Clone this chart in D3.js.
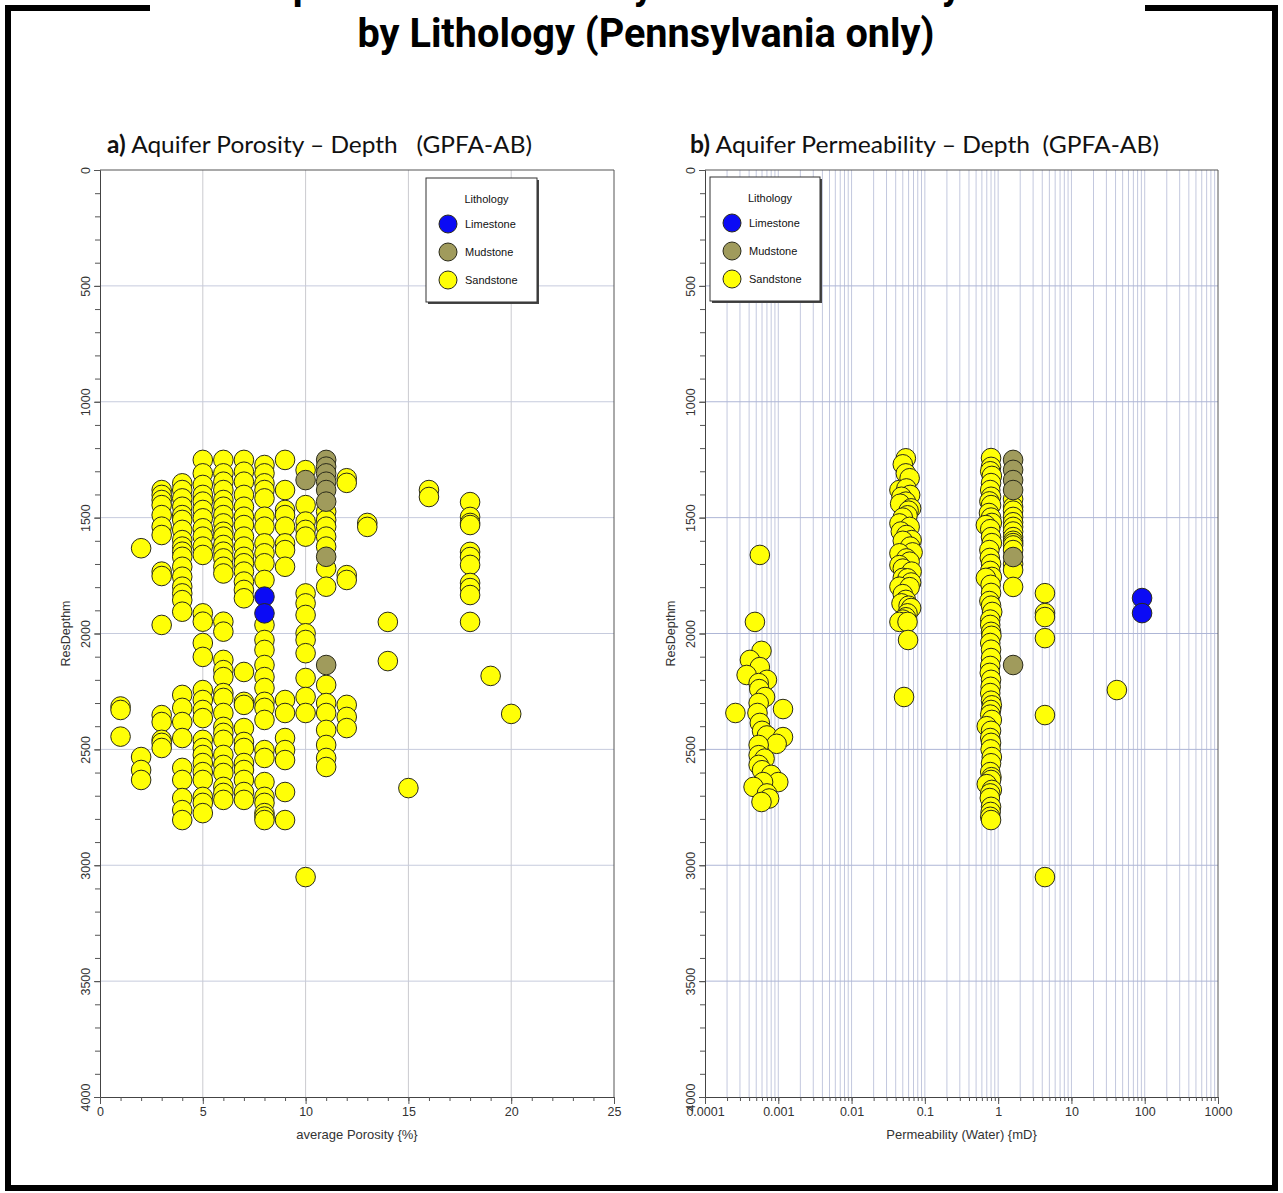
<!DOCTYPE html>
<html><head><meta charset="utf-8">
<script src="https://cdn.jsdelivr.net/npm/d3@7"></script>
<style>
body{margin:0;background:#fff}
svg{display:block}
text{font-family:"Liberation Sans",Arial,sans-serif;fill:#222}
</style>
</head><body>
<svg id="c" width="1283" height="1193"></svg>
<script>
// ---- data: [value, reservoir depth (m)] ----
const lithologies = ["Limestone", "Mudstone", "Sandstone"];
const lithColors = ["#0b0bf5", "#a09b5c", "#ffff06"];

const porositySandstone = [
  [1,2315],[1,2330],[1,2445],
  [2,1632],[2,2533],[2,2589],[2,2632],
  [3,1381],[3,1402],[3,1424],[3,1446],[3,1489],[3,1539],[3,1575],[3,1733],[3,1752],[3,1963],[3,2352],[3,2382],[3,2459],[3,2472],[3,2494],
  [4,1352],[4,1381],[4,1417],[4,1453],[4,1489],[4,1510],[4,1553],[4,1597],[4,1625],[4,1647],[4,1669],[4,1712],[4,1755],[4,1798],[4,1827],[4,1856],[4,1906],[4,2265],[4,2321],[4,2382],[4,2451],[4,2580],[4,2632],[4,2710],[4,2762],[4,2805],
  [5,1251],[5,1309],[5,1359],[5,1402],[5,1431],[5,1467],[5,1503],[5,1546],[5,1582],[5,1625],[5,1661],[5,1913],[5,1949],[5,2041],[5,2101],[5,2244],[5,2287],[5,2330],[5,2365],[5,2459],[5,2494],[5,2524],[5,2559],[5,2598],[5,2632],[5,2705],[5,2731],[5,2775],
  [6,1251],[6,1309],[6,1345],[6,1381],[6,1424],[6,1453],[6,1489],[6,1525],[6,1561],[6,1582],[6,1618],[6,1647],[6,1676],[6,1712],[6,1741],[6,1949],[6,1992],[6,2114],[6,2158],[6,2188],[6,2257],[6,2278],[6,2343],[6,2403],[6,2429],[6,2459],[6,2524],[6,2567],[6,2602],[6,2662],[6,2688],[6,2718],
  [7,1251],[7,1302],[7,1345],[7,1402],[7,1453],[7,1496],[7,1532],[7,1582],[7,1625],[7,1669],[7,1697],[7,1733],[7,1776],[7,1812],[7,1848],[7,2166],[7,2295],[7,2308],[7,2408],[7,2468],[7,2494],[7,2559],[7,2589],[7,2632],[7,2684],[7,2718],
  [8,1273],[8,1309],[8,1352],[8,1381],[8,1417],[8,1496],[8,1539],[8,1611],[8,1654],[8,1697],[8,1769],[8,1963],[8,2028],[8,2071],[8,2136],[8,2188],[8,2235],[8,2295],[8,2321],[8,2373],[8,2503],[8,2537],[8,2641],[8,2705],[8,2731],[8,2775],[8,2790],[8,2805],
  [9,1251],[9,1381],[9,1467],[9,1489],[9,1539],[9,1611],[9,1640],[9,1712],[9,2287],[9,2343],[9,2451],[9,2503],[9,2546],[9,2684],[9,2805],
  [10,1295],[10,1446],[10,1517],[10,1553],[10,1582],[10,1827],[10,1870],[10,1920],[10,1999],[10,2028],[10,2085],[10,2192],[10,2274],[10,2343],[10,3051],
  [11,1474],[11,1510],[11,1539],[11,1582],[11,1625],[11,1719],[11,1798],[11,2222],[11,2300],[11,2343],[11,2416],[11,2481],[11,2537],[11,2576],
  [12,1330],[12,1350],[12,1748],[12,1769],[12,2308],[12,2360],[12,2408],
  [13,1523],[13,1540],
  [14,1950],[14,2119],
  [15,2667],
  [16,1381],[16,1411],
  [18,1433],[18,1497],[18,1523],[18,1532],[18,1648],[18,1670],[18,1704],[18,1782],[18,1804],[18,1834],[18,1950],
  [19,2183],
  [20,2347]
];
const porosityMudstone = [[10,1338],[11,1251],[11,1280],[11,1309],[11,1345],[11,1381],[11,1431],[11,1669],[11,2136]];
const porosityLimestone = [[8,1841],[8,1913]];

const permeabilitySandstone = [
  // ~0.0005 mD group
  [5.6e-4,1661],[4.8e-4,1950],[5.9e-4,2075],[4.1e-4,2114],[5.6e-4,2145],[3.7e-4,2179],[7e-4,2200],[5.4e-4,2214],[5.5e-4,2240],[6.6e-4,2274],[5.4e-4,2300],[2.6e-4,2343],[1.16e-3,2326],[5.2e-4,2343],[5.6e-4,2386],[6e-4,2420],[7e-4,2440],[1.16e-3,2447],[9.5e-4,2476],[5.4e-4,2481],[5.4e-4,2525],[6.5e-4,2540],[5.4e-4,2567],[6e-4,2590],[8e-4,2610],[1e-3,2641],[6.2e-4,2641],[4.6e-4,2662],[7e-4,2690],[7.5e-4,2712],[5.9e-4,2727],
  // ~0.05 mD group
  [0.055,1244],[0.05,1270],[0.055,1309],[0.062,1330],[0.045,1381],[0.056,1374],[0.063,1402],[0.048,1410],[0.055,1431],[0.046,1440],[0.065,1460],[0.06,1470],[0.058,1490],[0.05,1500],[0.045,1525],[0.062,1540],[0.047,1560],[0.056,1575],[0.066,1597],[0.05,1600],[0.063,1625],[0.068,1650],[0.045,1654],[0.056,1676],[0.062,1690],[0.045,1705],[0.05,1720],[0.066,1733],[0.05,1760],[0.058,1762],[0.065,1780],[0.045,1798],[0.062,1800],[0.05,1830],[0.055,1855],[0.048,1870],[0.06,1880],[0.065,1890],[0.058,1913],[0.055,1930],[0.05,1940],[0.045,1950],[0.058,1950],[0.059,2028],[0.052,2274],
  // ~0.8 mD group
  [0.8,1243],[0.8,1281],[0.78,1300],[0.82,1320],[0.8,1351],[0.78,1381],[0.8,1410],[0.76,1430],[0.8,1446],[0.75,1480],[0.8,1500],[0.82,1523],[0.68,1532],[0.78,1550],[0.8,1584],[0.82,1610],[0.76,1640],[0.77,1674],[0.8,1700],[0.78,1730],[0.82,1756],[0.68,1760],[0.79,1790],[0.8,1825],[0.76,1860],[0.8,1880],[0.83,1907],[0.78,1940],[0.78,1963],[0.8,1993],[0.81,2010],[0.78,2041],[0.8,2070],[0.8,2106],[0.78,2140],[0.77,2170],[0.8,2200],[0.79,2230],[0.78,2257],[0.8,2290],[0.82,2310],[0.8,2330],[0.78,2350],[0.82,2373],[0.7,2400],[0.8,2420],[0.78,2451],[0.8,2472],[0.79,2500],[0.82,2533],[0.8,2560],[0.78,2598],[0.81,2620],[0.8,2632],[0.7,2650],[0.82,2675],[0.78,2690],[0.77,2710],[0.8,2748],[0.79,2770],[0.78,2791],[0.8,2805],
  // ~1.6 mD group
  [1.6,1420],[1.6,1454],[1.6,1470],[1.6,1497],[1.6,1520],[1.6,1540],[1.6,1560],[1.6,1584],[1.6,1600],[1.6,1610],[1.6,1620],[1.6,1640],[1.6,1700],[1.6,1726],[1.6,1799],
  // scattered
  [4.35,1826],[4.35,1912],[4.35,1929],[4.35,2020],[4.35,2352],[4.35,3051],
  [41.7,2244]
];
const permeabilityMudstone = [[1.6,1251],[1.6,1294],[1.6,1338],[1.6,1381],[1.6,1670],[1.6,2136]];
const permeabilityLimestone = [[92,1847],[92,1912]];

const depthTicks = [0,500,1000,1500,2000,2500,3000,3500,4000];
const porosityTicks = [0,5,10,15,20,25];
const permeabilityTicks = [1e-4,1e-3,1e-2,1e-1,1,10,100,1000];
const permeabilityTickLabels = ["0.0001","0.001","0.01","0.1","1","10","100","1000"];

// ---- layout ----
const svg = d3.select("#c");
const plotTop = 170, plotBottom = 1097;
const panels = [
  {left:100, right:614, x:d3.scaleLinear([0,25],[100,614]), log:false,
   series:[porositySandstone, porosityMudstone, porosityLimestone],
   subtitle:["a)", " Aquifer Porosity \u2013 Depth   (GPFA-AB)"], subX:107, subW:425,
   xTitle:"average Porosity {%}", legend:{x:426,y:178,w:111,h:124}},
  {left:705, right:1218, x:d3.scaleLog([1e-4,1000],[705,1218]), log:true,
   series:[permeabilitySandstone, permeabilityMudstone, permeabilityLimestone],
   subtitle:["b)", " Aquifer Permeability \u2013 Depth  (GPFA-AB)"], subX:690, subW:469,
   xTitle:"Permeability (Water) {mD}", legend:{x:710,y:177,w:110,h:124}}
];
const y = d3.scaleLinear([0,4000],[plotTop,plotBottom]);

// outer frame with a gap for the heading
svg.append("path")
  .attr("d","M150,8 H8 V1188 H1275 V8 H1145")
  .attr("fill","none").attr("stroke","#000").attr("stroke-width",6);

// heading (first line runs off the top edge)
svg.append("text").attr("x",649).attr("y",-1).attr("text-anchor","middle")
  .attr("textLength",806).attr("lengthAdjust","spacingAndGlyphs")
  .style("font-family","Roboto").style("font-weight",700).style("font-size","40px").style("fill","#000")
  .text("Depth Plots of Porosity and Permeability Data");
svg.append("text").attr("x",646).attr("y",47).attr("text-anchor","middle")
  .attr("textLength",577).attr("lengthAdjust","spacingAndGlyphs")
  .style("font-family","Roboto").style("font-weight",700).style("font-size","40px").style("fill","#000")
  .text("by Lithology (Pennsylvania only)");

panels.forEach(p => {
  const g = svg.append("g");
  const x = p.x;

  // grid
  const grid = g.append("g");
  if (p.log) {
    const vals = [];
    for (let e=-4; e<3; e++) for (let m=1; m<10; m++) vals.push(m*Math.pow(10,e));
    grid.selectAll("line.v").data(vals.filter(v=>v>1e-4&&v<1000)).join("line")
      .attr("x1",d=>x(d)).attr("x2",d=>x(d)).attr("y1",plotTop).attr("y2",plotBottom)
      .attr("stroke","#c3c8de").attr("stroke-width",1);
  } else {
    grid.selectAll("line.v").data([5,10,15,20]).join("line")
      .attr("x1",d=>x(d)).attr("x2",d=>x(d)).attr("y1",plotTop).attr("y2",plotBottom)
      .attr("stroke","#cacacf").attr("stroke-width",1);
  }
  grid.selectAll("line.h").data(depthTicks.slice(1,-1)).join("line")
    .attr("x1",p.left).attr("x2",p.right).attr("y1",d=>y(d)).attr("y2",d=>y(d))
    .attr("stroke",p.log?"#aeb6d6":"#c6cbdd").attr("stroke-width",1);

  // frame (top + right)
  g.append("path").attr("d",`M${p.left},${plotTop}H${p.right}V${plotBottom}`)
    .attr("fill","none").attr("stroke","#555").attr("stroke-width",1);

  // y axis
  const yMinor = d3.axisLeft(y).tickValues(d3.range(0,4001,100)).tickSize(5).tickFormat("");
  g.append("g").attr("transform",`translate(${p.left},0)`).call(yMinor)
    .call(a=>a.select(".domain").attr("stroke","#444"))
    .call(a=>a.selectAll(".tick line").attr("stroke","#555"));
  const yAxis = d3.axisLeft(y).tickValues(depthTicks).tickSize(6).tickFormat(d3.format("d"));
  const ya = g.append("g").attr("transform",`translate(${p.left},0)`).call(yAxis);
  ya.select(".domain").remove();
  ya.selectAll(".tick line").attr("stroke","#555");
  ya.selectAll(".tick text").attr("transform","rotate(-90)").attr("x",0).attr("y",-10).attr("dy",0)
    .attr("text-anchor","middle").style("font-size","12.5px").style("fill","#333");

  // x axis
  let xMinorVals;
  if (p.log) {
    xMinorVals = [];
    for (let e=-4; e<3; e++) for (let m=1; m<10; m++) xMinorVals.push(m*Math.pow(10,e));
    xMinorVals.push(1000);
  } else xMinorVals = d3.range(0,26,1);
  g.append("g").attr("transform",`translate(0,${plotBottom})`)
    .call(d3.axisBottom(x).tickValues(xMinorVals).tickSize(4).tickFormat(""))
    .call(a=>a.select(".domain").attr("stroke","#444"))
    .call(a=>a.selectAll(".tick line").attr("stroke","#555"));
  const majors = p.log ? permeabilityTicks : porosityTicks;
  const xa = g.append("g").attr("transform",`translate(0,${plotBottom})`)
    .call(d3.axisBottom(x).tickValues(majors).tickSize(7)
      .tickFormat((d,i)=> p.log ? permeabilityTickLabels[i] : String(d)));
  xa.select(".domain").remove();
  xa.selectAll(".tick line").attr("stroke","#555");
  xa.selectAll(".tick text").attr("y",10).attr("dy","0.71em").style("font-size","12.5px").style("fill","#333");

  // axis titles
  g.append("text").attr("transform",`translate(${p.left-30},${y(2000)}) rotate(-90)`)
    .attr("text-anchor","middle").style("font-size","12.5px").style("fill","#333").text("ResDepthm");
  g.append("text").attr("x",(p.left+p.right)/2).attr("y",1139)
    .attr("text-anchor","middle").style("font-size","13px").style("fill","#333").text(p.xTitle);

  // subtitle
  const st = g.append("text").attr("x",p.subX).attr("y",153)
    .attr("textLength",p.subW).attr("lengthAdjust","spacingAndGlyphs")
    .style("font-family","Lato").style("font-size","24px").style("white-space","pre").style("fill","#111");
  st.append("tspan").style("font-weight",700).text(p.subtitle[0]);
  st.append("tspan").text(p.subtitle[1]);

  // points: sandstone first, then mudstone, limestone on top
  [[0,2],[1,1],[2,0]].forEach(([si,ci]) => {
    g.append("g").selectAll("circle").data(p.series[si]).join("circle")
      .attr("cx",d=>x(d[0])).attr("cy",d=>y(d[1])).attr("r",9.8)
      .attr("fill",lithColors[ci]).attr("stroke","#2a2a1a").attr("stroke-width",1);
  });

  // legend
  const L = p.legend;
  const lg = g.append("g");
  lg.append("rect").attr("x",L.x+2).attr("y",L.y+2).attr("width",L.w).attr("height",L.h).attr("fill","#444");
  lg.append("rect").attr("x",L.x).attr("y",L.y).attr("width",L.w).attr("height",L.h)
    .attr("fill","#fff").attr("stroke","#333").attr("stroke-width",1);
  lg.append("text").attr("x",L.x+L.w/2+5).attr("y",L.y+25).attr("text-anchor","middle")
    .style("font-size","11px").style("fill","#111").text("Lithology");
  lithologies.forEach((name,i) => {
    const cy = L.y + 46 + i*28;
    lg.append("circle").attr("cx",L.x+22).attr("cy",cy).attr("r",9)
      .attr("fill",lithColors[i]).attr("stroke","#2a2a1a").attr("stroke-width",1);
    lg.append("text").attr("x",L.x+39).attr("y",cy+4).style("font-size","11px").style("fill","#111").text(name);
  });
});
</script>
</body></html>
